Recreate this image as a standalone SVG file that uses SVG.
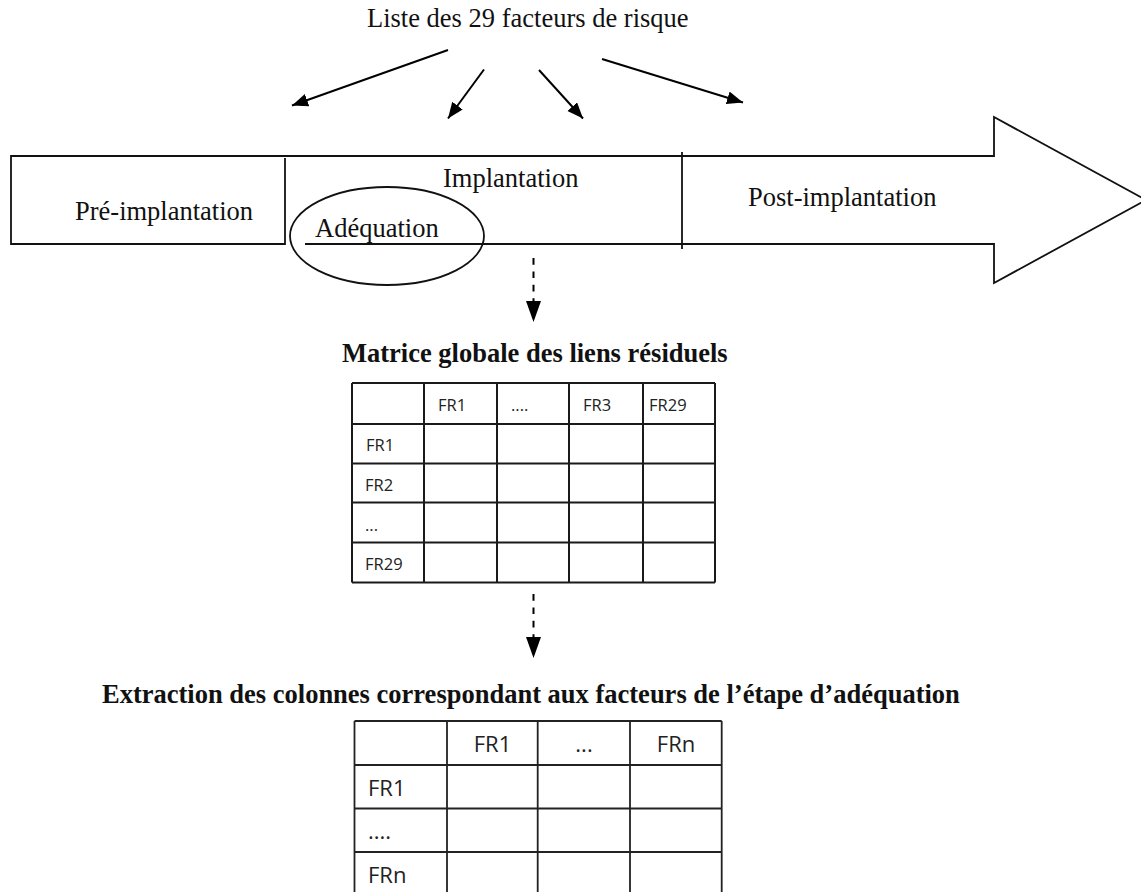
<svg xmlns="http://www.w3.org/2000/svg" width="1141" height="892" viewBox="0 0 1141 892">
<style>
.serif{font-family:"Liberation Serif","Times New Roman",serif;font-size:26.5px;fill:#111}
.bold{font-weight:bold}
.cell{font-family:"Open Sans","Liberation Sans",sans-serif;fill:#222}
.t1{font-size:16.5px}
.t2{font-size:22px}
.ln{stroke:#111;stroke-width:1.8;fill:none}
.grid1{stroke:#1a1a1a;stroke-width:2;fill:none}
.grid2{stroke:#222;stroke-width:1.8;fill:none}
.arr{stroke:#000;stroke-width:2;fill:none;marker-end:url(#head)}
.dash{stroke:#000;stroke-width:2;fill:none;stroke-dasharray:6.7 6.7;marker-end:url(#headD)}
</style>
<defs>
<marker id="head" markerUnits="userSpaceOnUse" markerWidth="17" markerHeight="14" refX="16" refY="6.5" orient="auto">
<path d="M0,0 L16,6.5 L0,13 z" fill="#000"/>
</marker>
<marker id="headD" markerUnits="userSpaceOnUse" markerWidth="22" markerHeight="16" refX="21" refY="7.5" orient="auto">
<path d="M0,0 L21,7.5 L0,15 z" fill="#000"/>
</marker>
</defs>
<rect width="1141" height="892" fill="#fff"/>

<g id="title">
<text class="serif" x="367" y="27">Liste des 29 facteurs de risque</text>
</g>

<g id="timeline">
<path class="ln" d="M285,244 L11,244 L11,156 L994,156 L994,117 L1146,200 L994,283 L994,244 L305,244" stroke-linejoin="miter"/>
<line class="ln" x1="285" y1="158" x2="285" y2="245"/>
<line class="ln" x1="682" y1="152" x2="682" y2="249"/>
</g>

<g id="pre-implantation">
<text class="serif" x="75" y="220">Pré-implantation</text>
</g>

<g id="implantation">
<text class="serif" x="443" y="187">Implantation</text>
</g>

<g id="adequation">
<ellipse class="ln" cx="387" cy="236" rx="97" ry="49"/>
<text class="serif" x="315" y="237">Adéquation</text>
</g>

<g id="post-implantation">
<text class="serif" x="748" y="206">Post-implantation</text>
</g>

<g id="connectors">
<line class="arr" x1="448" y1="50" x2="292" y2="105.5"/>
<line class="arr" x1="484" y1="69.5" x2="448" y2="118.5"/>
<line class="arr" x1="539" y1="70" x2="583" y2="118.5"/>
<line class="arr" x1="602" y1="59" x2="743" y2="102.5"/>
<line class="dash" x1="533.5" y1="258" x2="533.5" y2="322"/>
<line class="dash" x1="533.5" y1="594" x2="533.5" y2="658"/>
</g>

<g id="matrice-globale">
<text class="serif bold" x="342" y="362">Matrice globale des liens résiduels</text>
<path class="grid1" d="M352,383 H715 M352,424 H715 M352,463.5 H715 M352,502.5 H715 M352,542.5 H715 M352,582.5 H715 M352,383 V582.5 M424,383 V582.5 M497,383 V582.5 M569,383 V582.5 M643,383 V582.5 M715,383 V582.5"/>
<g class="cell t1">
<text x="438" y="411">FR1</text>
<text x="511" y="411">....</text>
<text x="583" y="411">FR3</text>
<text x="649" y="411">FR29</text>
<text x="366" y="451">FR1</text>
<text x="365" y="491">FR2</text>
<text x="365" y="531">...</text>
<text x="365" y="570">FR29</text>
</g>
</g>

<g id="extraction">
<text class="serif bold" x="102" y="703">Extraction des colonnes correspondant aux facteurs de l’étape d’adéquation</text>
<path class="grid2" d="M354.5,721 H721.7 M354.5,765 H721.7 M354.5,808.5 H721.7 M354.5,852 H721.7 M354.5,895.5 H721.7 M354.5,721 V896 M447,721 V896 M537.7,721 V896 M630,721 V896 M721.7,721 V896"/>
<g class="cell t2">
<text x="492.5" y="752" text-anchor="middle">FR1</text>
<text x="584" y="752" text-anchor="middle">...</text>
<text x="676" y="752" text-anchor="middle">FRn</text>
<text x="368" y="796">FR1</text>
<text x="368" y="839">....</text>
<text x="368" y="883">FRn</text>
</g>
</g>
</svg>
